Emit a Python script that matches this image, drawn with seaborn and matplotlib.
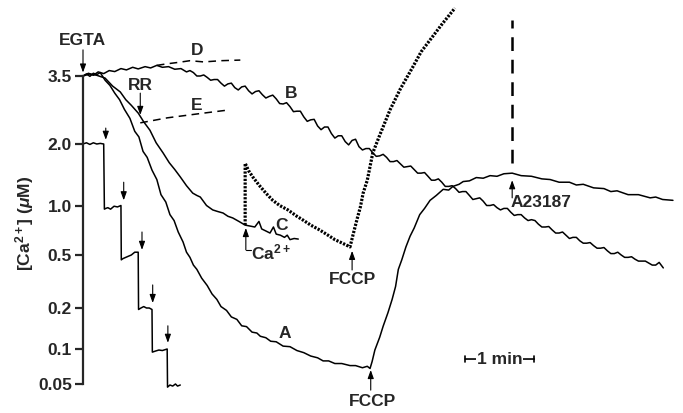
import numpy as np
import matplotlib
matplotlib.use("Agg")
import matplotlib.pyplot as plt
import seaborn as sns
import pandas as pd

# time in min after EGTA addition, [Ca2+] in uM
a_t = [0.00, 0.05, 0.10, 0.15, 0.20, 0.25, 0.32, 0.39, 0.46, 0.53, 0.60, 0.68, 0.75, 0.81, 0.87, 0.93,
       1.00, 1.07, 1.13, 1.20, 1.26, 1.32, 1.38, 1.45, 1.50, 1.55, 1.60, 1.65, 1.72, 1.80, 1.87, 1.94,
       2.00, 2.08, 2.15, 2.23, 2.30, 2.37, 2.45, 2.52, 2.57, 2.65, 2.72, 2.80, 2.90, 3.00, 3.10, 3.20,
       3.30, 3.40, 3.48, 3.56, 3.65, 3.75, 3.87, 3.95, 4.05, 4.12, 4.16,
       4.19, 4.23, 4.30, 4.35, 4.42, 4.48, 4.53, 4.57, 4.62, 4.68, 4.74, 4.80, 4.88, 4.95, 5.03, 5.12,
       5.22, 5.30, 5.36, 5.45, 5.51, 5.60, 5.70, 5.80, 5.90, 6.00, 6.10, 6.22, 6.35, 6.50, 6.65, 6.77,
       6.90, 7.05, 7.15, 7.25, 7.40, 7.55, 7.65, 7.74, 7.90, 8.05, 8.22, 8.30, 8.40, 8.55]
a_ca = [3.50, 3.56, 3.49, 3.58, 3.54, 3.60, 3.38, 3.24, 3.04, 2.88, 2.66, 2.47, 2.22, 2.12, 1.84, 1.72,
        1.49, 1.34, 1.13, 1.04, 0.88, 0.81, 0.69, 0.60, 0.52, 0.48, 0.42, 0.39, 0.335, 0.295, 0.255, 0.232,
        0.205, 0.192, 0.172, 0.165, 0.148, 0.146, 0.133, 0.131, 0.124, 0.121, 0.114, 0.113, 0.105, 0.104,
        0.097, 0.093, 0.087, 0.084, 0.079, 0.079, 0.075, 0.075, 0.072, 0.072, 0.069, 0.071, 0.068,
        0.078, 0.098, 0.122, 0.147, 0.185, 0.232, 0.29, 0.39, 0.46, 0.56, 0.65, 0.73, 0.88, 0.96, 1.06, 1.12,
        1.20, 1.19, 1.24, 1.27, 1.31, 1.32, 1.37, 1.36, 1.40, 1.39, 1.43, 1.44, 1.40, 1.39, 1.35, 1.34,
        1.30, 1.30, 1.26, 1.27, 1.22, 1.21, 1.17, 1.18, 1.13, 1.13, 1.09, 1.10, 1.07, 1.06]

b_t = [0.00, 0.08, 0.15, 0.22, 0.30, 0.38, 0.46, 0.55, 0.63, 0.72, 0.80, 0.90, 0.98, 1.07, 1.15, 1.24,
       1.33, 1.42, 1.50,
       1.55, 1.60, 1.65, 1.70, 1.75, 1.80, 1.85, 1.90, 1.95, 2.00, 2.05, 2.10, 2.15, 2.20, 2.25, 2.30,
       2.35, 2.40, 2.45, 2.50, 2.55, 2.60, 2.65, 2.70, 2.75, 2.80, 2.85, 2.90, 2.95, 3.00, 3.05, 3.10,
       3.15, 3.20, 3.25, 3.30, 3.35, 3.40, 3.45, 3.50, 3.55, 3.60, 3.65, 3.70, 3.75, 3.80, 3.85, 3.90,
       3.95, 4.00, 4.05, 4.10, 4.15, 4.20, 4.25, 4.30, 4.35, 4.40, 4.45, 4.50, 4.55, 4.60, 4.65, 4.70,
       4.75, 4.80, 4.85, 4.90, 4.95, 5.00, 5.05, 5.10, 5.15, 5.20, 5.25, 5.30, 5.35, 5.40, 5.45, 5.50,
       5.55, 5.60, 5.65, 5.70, 5.75, 5.80, 5.85, 5.90, 5.95, 6.00, 6.05, 6.10, 6.15, 6.20, 6.25, 6.30,
       6.35, 6.40, 6.45, 6.50, 6.55, 6.60, 6.65, 6.70, 6.75, 6.80, 6.85, 6.90, 6.95, 7.00, 7.05, 7.10,
       7.15, 7.20, 7.25, 7.30, 7.35, 7.40, 7.45, 7.50, 7.55, 7.60, 7.65, 7.70, 7.75, 7.80, 7.85, 7.90,
       7.95, 8.00, 8.05, 8.10, 8.15, 8.20, 8.25, 8.30, 8.35, 8.41]
b_ca = [3.50, 3.58, 3.52, 3.62, 3.57, 3.66, 3.63, 3.72, 3.68, 3.76, 3.71, 3.78, 3.74, 3.82, 3.76, 3.78,
        3.70, 3.72, 3.62,
        3.66, 3.60, 3.50, 3.50, 3.53, 3.46, 3.38, 3.40, 3.40, 3.30, 3.22, 3.28, 3.30, 3.18, 3.12, 3.20,
        3.22, 3.10, 3.02, 3.08, 3.10, 3.00, 2.92, 2.96, 2.99, 2.90, 2.79, 2.78, 2.81, 2.72, 2.61, 2.62,
        2.62, 2.50, 2.41, 2.44, 2.45, 2.32, 2.25, 2.30, 2.30, 2.18, 2.10, 2.14, 2.14, 2.04, 1.98, 2.06,
        2.08, 1.94, 1.87, 1.90, 1.90, 1.81, 1.74, 1.75, 1.78, 1.72, 1.64, 1.64, 1.66, 1.60, 1.54, 1.55,
        1.56, 1.50, 1.44, 1.44, 1.45, 1.39, 1.33, 1.33, 1.35, 1.30, 1.24, 1.24, 1.25, 1.21, 1.16, 1.17,
        1.17, 1.12, 1.07, 1.08, 1.09, 1.05, 1.00, 1.00, 1.01, 0.97, 0.94, 0.96, 0.96, 0.91, 0.87, 0.88,
        0.88, 0.84, 0.81, 0.82, 0.81, 0.77, 0.74, 0.74, 0.745, 0.71, 0.68, 0.68, 0.69, 0.66, 0.63, 0.64,
        0.64, 0.61, 0.59, 0.59, 0.595, 0.57, 0.55, 0.55, 0.555, 0.53, 0.51, 0.51, 0.52, 0.50, 0.48, 0.48,
        0.485, 0.465, 0.45, 0.45, 0.45, 0.435, 0.42, 0.42, 0.44, 0.40]

c_t = [0.00, 0.10, 0.20, 0.32, 0.43, 0.54, 0.62, 0.70, 0.80, 0.88, 0.97, 1.06, 1.16, 1.25, 1.33, 1.41,
       1.50, 1.59, 1.65, 1.70, 1.79, 1.88, 1.95, 2.03, 2.10, 2.17, 2.26, 2.35, 2.42, 2.49, 2.55, 2.59,
       2.65, 2.71, 2.76, 2.80, 2.86, 2.92, 2.96, 3.00, 3.06, 3.12]
c_ca = [3.50, 3.56, 3.52, 3.44, 3.22, 3.07, 2.88, 2.75, 2.58, 2.40, 2.24, 2.02, 1.81, 1.62, 1.50, 1.38,
        1.25, 1.15, 1.12, 1.10, 1.00, 0.94, 0.92, 0.90, 0.86, 0.84, 0.80, 0.76, 0.75, 0.74, 0.80, 0.72,
        0.70, 0.68, 0.74, 0.67, 0.66, 0.64, 0.66, 0.62, 0.63, 0.625]

# C with Ca2+ added, then FCCP
cadd_t = [2.35, 2.35, 2.40, 2.46, 2.55, 2.65, 2.75, 2.85, 2.97, 3.10, 3.20, 3.30, 3.43, 3.55, 3.65, 3.76,
          3.87, 3.92, 3.97, 4.02, 4.06, 4.12, 4.20, 4.30, 4.45, 4.60, 4.78, 4.90, 5.03, 5.20, 5.39]
cadd_ca = [0.76, 1.61, 1.48, 1.38, 1.26, 1.15, 1.06, 1.00, 0.94, 0.86, 0.81, 0.76, 0.71, 0.66, 0.62, 0.59,
           0.56, 0.68, 0.82, 0.98, 1.15, 1.33, 1.81, 2.15, 2.65, 3.15, 3.77, 4.27, 4.71, 5.35, 6.12]

d_t = [1.07, 1.22, 1.40, 1.55, 1.75, 2.00, 2.28]
d_ca = [3.82, 3.87, 3.92, 3.97, 3.93, 3.97, 3.99]

e_t = [0.83, 1.22, 1.70, 2.13]
e_ca = [2.38, 2.48, 2.57, 2.65]

steps_t = [0.00, 0.05, 0.10, 0.15, 0.20, 0.25, 0.30, 0.31, 0.33, 0.36, 0.40, 0.45, 0.50, 0.55, 0.555,
           0.58, 0.62, 0.66, 0.70, 0.75, 0.80, 0.805, 0.84, 0.88, 0.92, 0.96, 1.00, 1.005, 1.05, 1.10,
           1.15, 1.22, 1.225, 1.26, 1.30, 1.34, 1.37, 1.41]
steps_ca = [2.00, 2.02, 1.99, 2.02, 2.00, 2.01, 2.00, 0.95, 0.96, 0.97, 0.95, 0.99, 0.98, 1.00, 0.46,
            0.47, 0.48, 0.49, 0.50, 0.52, 0.52, 0.195, 0.20, 0.205, 0.20, 0.20, 0.195, 0.094, 0.096, 0.098,
            0.097, 0.10, 0.047, 0.049, 0.048, 0.050, 0.048, 0.049]
step_arrow_t = [0.33, 0.59, 0.855, 1.01, 1.23]
step_arrow_from = [2.28, 1.30, 0.69, 0.298, 0.148]
step_arrow_to = [2.07, 1.06, 0.537, 0.218, 0.111]

tick_vals = [0.05, 0.1, 0.2, 0.5, 1.0, 2.0, 3.5]
tick_labels = ["0.05", "0.1", "0.2", "0.5", "1.0", "2.0", "3.5"]

# the calibration of the axis is not logarithmic: interpolate between the ticks
tick_pos = np.array([29, 64, 105, 158, 207.5, 269, 337], dtype=float)
lt = np.log10(tick_vals)


def fwd(c):
    l = np.log10(np.clip(np.asarray(c, dtype=float), 1e-6, None))
    out = np.interp(l, lt, tick_pos)
    s0 = (tick_pos[1] - tick_pos[0]) / (lt[1] - lt[0])
    s1 = (tick_pos[-1] - tick_pos[-2]) / (lt[-1] - lt[-2])
    out = np.where(l < lt[0], tick_pos[0] + (l - lt[0]) * s0, out)
    out = np.where(l > lt[-1], tick_pos[-1] + (l - lt[-1]) * s1, out)
    return out


def inv(p):
    p = np.asarray(p, dtype=float)
    l = np.interp(p, tick_pos, lt)
    s0 = (lt[1] - lt[0]) / (tick_pos[1] - tick_pos[0])
    s1 = (lt[-1] - lt[-2]) / (tick_pos[-1] - tick_pos[-2])
    l = np.where(p < tick_pos[0], lt[0] + (p - tick_pos[0]) * s0, l)
    l = np.where(p > tick_pos[-1], lt[-1] + (p - tick_pos[-1]) * s1, l)
    return 10 ** l


sns.set_style("white")
plt.rcParams["font.family"] = ["Liberation Sans", "DejaVu Sans"]
plt.rcParams["mathtext.fontset"] = "custom"
plt.rcParams["mathtext.rm"] = "Liberation Sans:bold"
plt.rcParams["mathtext.it"] = "Liberation Sans:italic:bold"
plt.rcParams["mathtext.bf"] = "Liberation Sans:bold"

fig = plt.figure(figsize=(6.83, 4.13), dpi=100)
ax = fig.add_axes([83 / 683, 0, 1 - 83 / 683, 1])
ax.set_yscale("function", functions=(fwd, inv))

lw = 1.1
for tt, cc in [(a_t, a_ca), (b_t, b_ca), (c_t, c_ca), (steps_t, steps_ca)]:
    df = pd.DataFrame({"t": tt, "ca": cc})
    sns.lineplot(data=df, x="t", y="ca", estimator=None, sort=False, color="black", lw=lw, ax=ax)

sns.lineplot(data=pd.DataFrame({"t": cadd_t, "ca": cadd_ca}), x="t", y="ca", estimator=None,
             sort=False, color="black", lw=2.3, ls=(0, (0.7, 0.45)), ax=ax)
for tt, cc in [(d_t, d_ca), (e_t, e_ca)]:
    sns.lineplot(data=pd.DataFrame({"t": tt, "ca": cc}), x="t", y="ca", estimator=None,
                 sort=False, color="black", lw=1.1, ls=(0, (5, 3.5)), ax=ax)

# A23187 dashed marker
ax.plot([6.22, 6.22], [1.61, 5.55], color="black", lw=1.8, ls=(0, (5.5, 3.5)))

ax.set_xlim(0, (683 - 83) / 69)
ax.set_ylim(inv(0), inv(413))
ax.set_yticks(tick_vals)
ax.set_yticklabels(tick_labels)
ax.yaxis.set_minor_locator(matplotlib.ticker.NullLocator())
ax.set_xticks([])
ax.set_xlabel("")
ax.set_ylabel("")
ax.tick_params(axis="y", left=True, length=6, width=1.6, pad=2, labelsize=12.5)
for lab in ax.get_yticklabels():
    lab.set_fontweight("bold")
for s in ["top", "right", "bottom"]:
    ax.spines[s].set_visible(False)
ax.spines["left"].set_linewidth(1.6)
ax.spines["left"].set_bounds(0.05, 3.5)
ax.patch.set_alpha(0)

arrow = dict(arrowstyle="-|>,head_length=0.5,head_width=0.18", color="black", lw=0.8,
             shrinkA=0, shrinkB=0)


def mark(t, c0, c1):
    ax.annotate("", xy=(t, c1), xytext=(t, c0), arrowprops=arrow)


txt = dict(fontsize=12.5, fontweight="bold", ha="center", va="center")
ax.text(-0.01, 4.67, "EGTA", clip_on=False, **txt)
mark(0.0, 4.34, 3.6)
ax.text(1.65, 4.30, "D", **txt)
ax.text(0.83, 3.25, "RR", **txt)
mark(0.83, 3.04, 2.54)
ax.text(1.65, 2.74, "E", **txt)
ax.text(3.01, 3.04, "B", **txt)
ax.text(2.87, 0.76, "C", **txt)
ax.text(2.44, 0.52, r"Ca$^{2+}$", fontsize=12.5, fontweight="bold", ha="left", va="center")
mark(2.36, 0.537, 0.73)
ax.plot([2.36, 2.43], [0.537, 0.537], color="black", lw=0.8)
ax.text(3.90, 0.325, "FCCP", **txt)
mark(3.90, 0.386, 0.53)
ax.text(2.93, 0.131, "A", **txt)
ax.text(4.20, 0.0357, "FCCP", **txt)
mark(4.17, 0.0443, 0.066)
ax.text(6.20, 1.04, "A23187", fontsize=12.5, fontweight="bold", ha="left", va="center")
mark(6.22, 1.09, 1.33)
for t, c0, c1 in zip(step_arrow_t, step_arrow_from, step_arrow_to):
    mark(t, c0, c1)

# 1 min scale bar
ax.annotate("", xy=(6.54, 0.082), xytext=(5.54, 0.082),
            arrowprops=dict(arrowstyle="|-|,widthA=0.25,widthB=0.25", color="black", lw=1.2,
                            shrinkA=0, shrinkB=0))
ax.text(6.04, 0.082, "1 min", fontsize=12.5, fontweight="bold", ha="center", va="center",
        bbox=dict(facecolor="white", edgecolor="none", pad=0.5))

fig.text(25 / 683, 1 - 223 / 413, r"[Ca$^{2+}$] ($\mu$M)", rotation=90, fontsize=12.5,
         fontweight="bold", ha="center", va="center")

fig.savefig("out.png", dpi=100, facecolor="white")
